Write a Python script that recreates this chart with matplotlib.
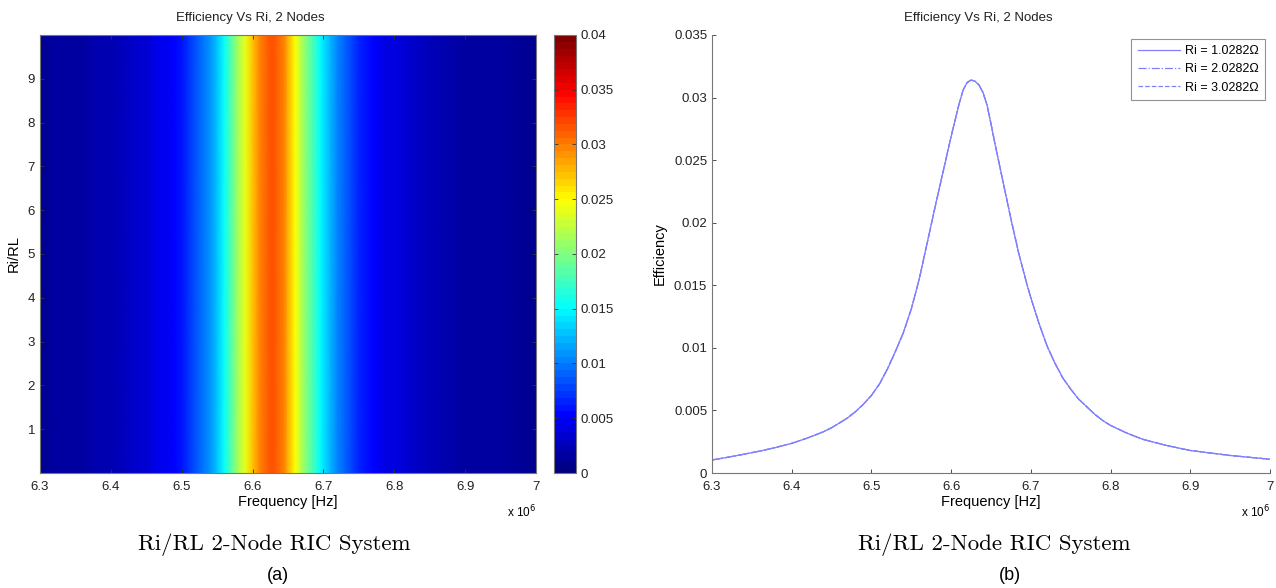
import numpy as np
import matplotlib

matplotlib.use("Agg")
import matplotlib.pyplot as plt
from matplotlib.colors import LinearSegmentedColormap
from matplotlib.ticker import FormatStrFormatter


# frequency in units of 1e6 Hz, efficiency
FREQ = [6.30, 6.32, 6.34, 6.36, 6.38, 6.40, 6.42, 6.44, 6.45, 6.46, 6.47,
        6.48, 6.49, 6.50, 6.51, 6.52, 6.53, 6.54, 6.55, 6.56, 6.57, 6.58,
        6.59, 6.60, 6.61, 6.615, 6.62, 6.625, 6.63, 6.635, 6.64, 6.645,
        6.65, 6.655, 6.66, 6.665, 6.67, 6.675, 6.68, 6.685, 6.69, 6.695,
        6.70, 6.71, 6.72, 6.73, 6.74, 6.75, 6.76, 6.77, 6.78, 6.79, 6.80,
        6.82, 6.84, 6.87, 6.90, 6.95, 7.00]
EFFICIENCY = [0.00104, 0.00126, 0.00150, 0.00175, 0.00204, 0.00237, 0.00280,
              0.00330, 0.00362, 0.00400, 0.00440, 0.00490, 0.00550, 0.00620,
              0.00710, 0.00830, 0.00970, 0.01120, 0.01310, 0.01550, 0.01840,
              0.02130, 0.02410, 0.02690, 0.02950, 0.03060, 0.03120, 0.03140,
              0.03130, 0.03100, 0.03040, 0.02940, 0.02790, 0.02630, 0.02480,
              0.02330, 0.02180, 0.02030, 0.01890, 0.01750, 0.01630, 0.01510,
              0.01400, 0.01200, 0.01020, 0.00880, 0.00760, 0.00670, 0.00590,
              0.00530, 0.00470, 0.00420, 0.00380, 0.00320, 0.00270, 0.00220,
              0.00180, 0.00140, 0.00110]
RI_RL = [0.0, 2.5, 5.0, 7.5, 10.0]
LEGEND_LABELS = ["Ri = 1.0282\u03a9", "Ri = 2.0282\u03a9", "Ri = 3.0282\u03a9"]
LINE_STYLES = ["-", "-.", "--"]

TITLE = "Efficiency Vs Ri, 2 Nodes"
CAPTION = "Ri/RL 2-Node RIC System"

plt.rcParams["font.family"] = ["Liberation Sans", "DejaVu Sans"]
plt.rcParams["font.size"] = 9

# MATLAB-style jet (64 levels)
MATLAB_JET = LinearSegmentedColormap(
    "matlab_jet",
    {
        "red": [(0, 0, 0), (0.375, 0, 0), (0.625, 1, 1), (0.875, 1, 1), (1, 0.5, 0.5)],
        "green": [(0, 0, 0), (0.125, 0, 0), (0.375, 1, 1), (0.625, 1, 1), (0.875, 0, 0), (1, 0, 0)],
        "blue": [(0, 0.5, 0.5), (0.125, 1, 1), (0.375, 1, 1), (0.625, 0, 0), (1, 0, 0)],
    },
    N=64,
)


def matlab_axes(ax, box=True):
    ax.tick_params(direction="in", length=3, width=0.6, colors="#333333",
                   labelcolor="#222222", top=box, right=box, labelsize=9.5)
    ax.tick_params(axis="x", pad=6)
    for name, sp in ax.spines.items():
        sp.set_color("#777777")
        sp.set_linewidth(0.8)
        if not box and name in ("top", "right"):
            sp.set_visible(False)


def main() -> None:
    fig = plt.figure(figsize=(12.76, 5.88), dpi=100)
    W, H = 1276.0, 588.0

    # (a) heatmap
    ax1 = fig.add_axes([40 / W, 1 - 473 / H, 496 / W, 438 / H])
    freq = np.array(FREQ)
    eff = np.array(EFFICIENCY)
    ri = np.array(RI_RL)
    z = np.tile(eff, (len(ri), 1))
    mesh = ax1.pcolormesh(freq, ri, z, cmap=MATLAB_JET, vmin=0, vmax=0.04,
                          shading="gouraud")
    ax1.set_xlim(6.3, 7.0)
    ax1.set_ylim(0, 10)
    ax1.set_xticks(np.arange(6.3, 7.01, 0.1))
    ax1.set_yticks(range(1, 10))
    ax1.xaxis.set_major_formatter(FormatStrFormatter("%g"))
    ax1.set_xlabel("Frequency [Hz]", fontsize=10.5, labelpad=1)
    ax1.set_ylabel("Ri/RL", fontsize=10.5, labelpad=5)
    matlab_axes(ax1)
    ax1.text(1.0, -0.07, "x 10$^6$", transform=ax1.transAxes, ha="right",
             va="top", fontsize=8.5)

    cax = fig.add_axes([554 / W, 1 - 473 / H, 22 / W, 438 / H])
    cb = fig.colorbar(mesh, cax=cax)
    cb.set_ticks(np.arange(0, 0.0401, 0.005))
    cb.ax.yaxis.set_major_formatter(FormatStrFormatter("%g"))
    cb.ax.tick_params(direction="in", length=3, width=0.6, left=True,
                      right=True, labelsize=9.5, colors="#333333",
                      labelcolor="#222222")
    cb.outline.set_edgecolor("#777777")
    cb.outline.set_linewidth(0.8)

    # (b) line plot
    ax2 = fig.add_axes([712 / W, 1 - 473 / H, 558 / W, 438 / H])
    for lab, ls in zip(LEGEND_LABELS, LINE_STYLES):
        ax2.plot(FREQ, EFFICIENCY, ls, color="#8080ff", lw=0.9, label=lab)
    ax2.set_xlim(6.3, 7.0)
    ax2.set_ylim(0, 0.035)
    ax2.set_xticks(np.arange(6.3, 7.01, 0.1))
    ax2.set_yticks(np.arange(0, 0.0351, 0.005))
    ax2.xaxis.set_major_formatter(FormatStrFormatter("%g"))
    ax2.yaxis.set_major_formatter(FormatStrFormatter("%g"))
    ax2.set_xlabel("Frequency [Hz]", fontsize=10.5, labelpad=1)
    ax2.set_ylabel("Efficiency", fontsize=10.5, labelpad=5)
    matlab_axes(ax2, box=False)
    ax2.text(1.0, -0.07, "x 10$^6$", transform=ax2.transAxes, ha="right",
             va="top", fontsize=8.5)
    leg = ax2.legend(loc="upper right", fontsize=9, frameon=True,
                     fancybox=False, borderpad=0.5, handlelength=3.4,
                     handletextpad=0.4, labelspacing=0.5, borderaxespad=0,
                     bbox_to_anchor=(1 - 5 / 558, 1 - 4 / 438))
    leg.get_frame().set_edgecolor("#777777")
    leg.get_frame().set_linewidth(0.8)

    # panel titles (sit a little left of the axes centre, as in the source)
    for tx in (250, 978):
        fig.text(tx / W, 1 - 18 / H, TITLE, fontsize=9.5, ha="center",
                 va="center", color="#222222")

    # captions
    for cx, tx, tag in ((274, 278, "(a)"), (994, 1010, "(b)")):
        fig.text(cx / W, 1 - 545 / H, CAPTION, family="cmr10", fontsize=16.5,
                 ha="center", va="center")
        fig.text(tx / W, 1 - 576 / H, tag, fontsize=13, ha="center",
                 va="center")

    fig.savefig("out.png", dpi=100)
    plt.close(fig)


if __name__ == "__main__":
    main()
